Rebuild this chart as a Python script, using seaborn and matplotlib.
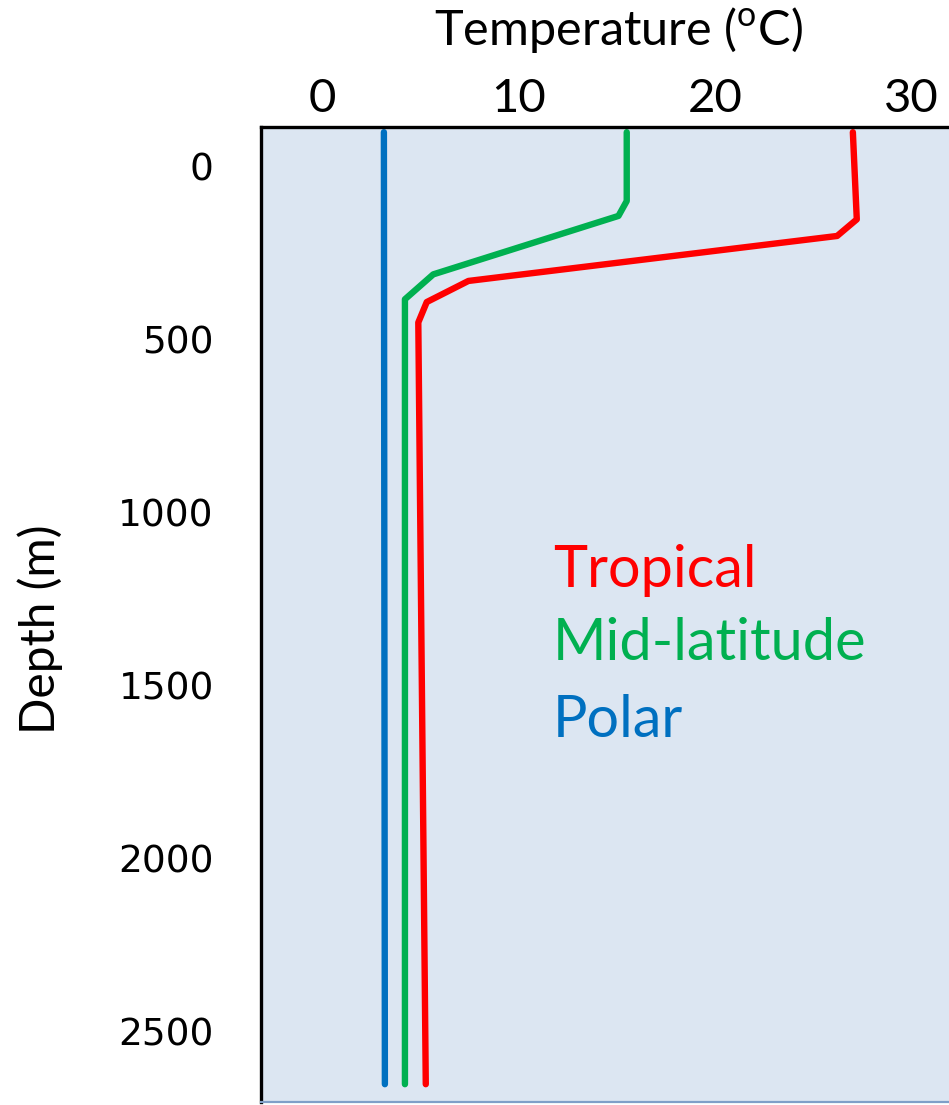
# Ocean temperature profiles by latitude zone (depth vs temperature).

import numpy as np
import pandas as pd

import matplotlib
matplotlib.use('Agg')
import matplotlib.pyplot as plt

import seaborn as sns


# Values
tropical_temp = [27.0, 27.2, 26.2, 7.45, 5.33, 4.9, 5.28]
tropical_depth = [-100, 152, 200, 330, 391, 450, 2652]

midlat_temp = [15.5, 15.5, 15.08, 5.66, 4.22, 4.22]
midlat_depth = [-100, 99, 142, 311, 383, 2652]

polar_temp = [3.15, 3.2]
polar_depth = [-100, 2652]

zones = ["Tropical", "Mid-latitude", "Polar"]
zone_colors = {"Tropical": "#FF0000", "Mid-latitude": "#00B050", "Polar": "#0070C0"}

x_ticks = [0, 10, 20, 30]
y_ticks = [0, 500, 1000, 1500, 2000, 2500]

frames = []
for name, t, d in [("Tropical", tropical_temp, tropical_depth),
                   ("Mid-latitude", midlat_temp, midlat_depth),
                   ("Polar", polar_temp, polar_depth)]:
    frames.append(pd.DataFrame({"zone": name, "temp": t, "depth": d}))
df = pd.concat(frames, ignore_index=True)

sns.set_style("white")
plt.rcParams['font.family'] = ['Lato', 'DejaVu Sans']
plt.rcParams['text.color'] = 'black'
plt.rcParams['axes.labelcolor'] = 'black'
plt.rcParams['xtick.color'] = 'black'
plt.rcParams['ytick.color'] = 'black'

fig = plt.figure(figsize=(9.49, 11.05), dpi=100)
ax = fig.add_axes([261 / 949, 3.5 / 1105, 700 / 949, 974.5 / 1105])
ax.set_facecolor("#DCE6F2")

sns.lineplot(data=df, x="temp", y="depth", hue="zone", palette=zone_colors,
             sort=False, estimator=None, legend=False, lw=4.6, ax=ax)

ax.set_xlim(-3.1, 32.5)
ax.set_ylim(2702, -115)

ax.xaxis.tick_top()
ax.xaxis.set_label_position('top')
ax.set_xticks(x_ticks)
ax.set_yticks(y_ticks)
ax.tick_params(axis='x', length=0, pad=5, labelsize=34)
ax.tick_params(axis='y', length=0, pad=34)
for lab in ax.get_yticklabels():
    lab.set_fontfamily('DejaVu Sans')
    lab.set_fontsize(27)

ax.set_xlabel(r"Temperature ($^\mathregular{o}$C)", fontsize=35)
ax.xaxis.set_label_coords((618 - 261) / 700, (1101.5 - 55) / 974.5)
ax.xaxis.label.set_va('bottom')
ax.set_ylabel("Depth (m)", fontsize=34.5)
ax.yaxis.set_label_coords(-(261 - 63) / 700, (1101.5 - 629) / 974.5)

for side in ['left', 'top']:
    ax.spines[side].set_color('black')
    ax.spines[side].set_linewidth(2.4)
ax.spines['bottom'].set_color('#7f9fc8')
ax.spines['bottom'].set_linewidth(1.6)
ax.spines['right'].set_visible(False)

label_depths = [1214, 1426, 1647]
for name, dep in zip(zones, label_depths):
    ax.text(11.76, dep, name, color=zone_colors[name], fontsize=41.5,
            va='baseline', ha='left')

fig.savefig("out.png", dpi=100)
plt.close()
